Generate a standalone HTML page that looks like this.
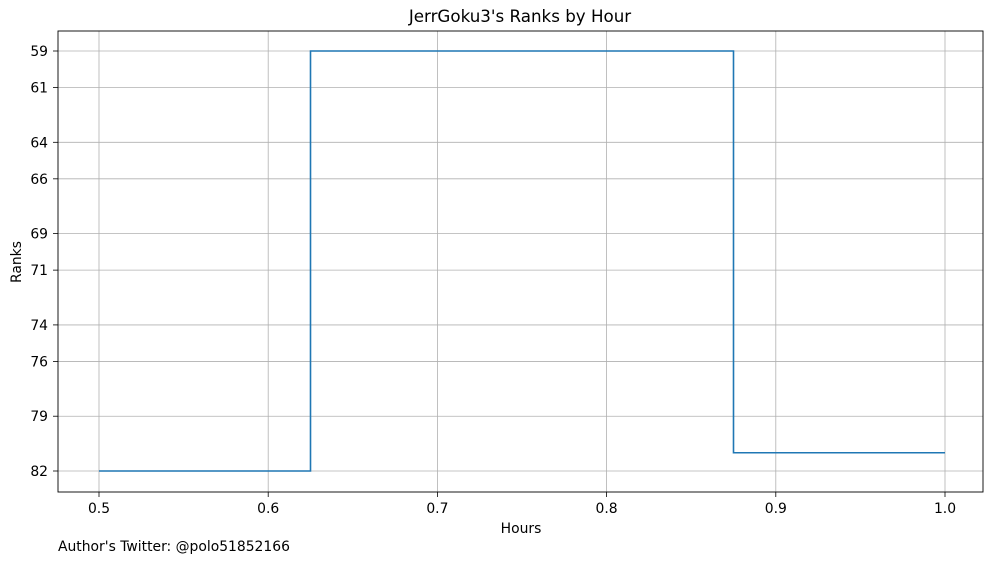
<!DOCTYPE html>
<html><head><meta charset="utf-8"><style>
body{margin:0;background:#fff;}
svg{font-family:"DejaVu Sans","Liberation Sans",sans-serif;}
</style></head><body>
<svg id="chart" width="997" height="562" viewBox="0 0 997 562" xmlns="http://www.w3.org/2000/svg">
<rect width="997" height="562" fill="#fff"/>
<text x="520" y="22" text-anchor="middle" font-size="16.7">JerrGoku3's Ranks by Hour</text>
<g id="grid"></g>
<g id="ticks"></g>
<path id="line" fill="none" stroke="#1f77b4" stroke-width="1.6"/>
<rect x="58" y="31" width="925" height="461" fill="none" stroke="#000" stroke-width="0.9"/>
<text x="521" y="533" text-anchor="middle" font-size="13.9">Hours</text>
<text x="21" y="262" text-anchor="middle" font-size="13.9" transform="rotate(-90 21 262)">Ranks</text>
<text x="58" y="551" font-size="13.9">Author's Twitter: @polo51852166</text>
</svg>
<script>
const hours = [0.5, 0.75, 1.0];
const ranks = [82, 59, 81];
const xTicks = [0.5, 0.6, 0.7, 0.8, 0.9, 1.0];
const xTickLabels = ["0.5", "0.6", "0.7", "0.8", "0.9", "1.0"];
const yTicks = [59, 61, 64, 66, 69, 71, 74, 76, 79, 82];

const NS = "http://www.w3.org/2000/svg";
const X = v => 99 + (v - 0.5) * 1692;
const Y = v => 51 + (v - 59) * (420 / 23);
const grid = document.getElementById('grid');
const ticks = document.getElementById('ticks');
function mk(tag, attrs, parent) {
  const e = document.createElementNS(NS, tag);
  for (const k in attrs) e.setAttribute(k, attrs[k]);
  parent.appendChild(e);
  return e;
}
xTicks.forEach((t, i) => {
  const x = X(t);
  const g = mk('line', {x1: x, x2: x, y1: 31, y2: 492, stroke: '#b0b0b0', 'stroke-width': 0.8}, grid);
  
  
  const tk = mk('line', {x1: x, x2: x, y1: 492, y2: 497, stroke: '#000', 'stroke-width': 0.8}, ticks);
  
  
  const tx = mk('text', {x: x, y: 513, 'text-anchor': 'middle', 'font-size': 13.9}, ticks);
  tx.textContent = xTickLabels[i];
  
  
});
yTicks.forEach(t => {
  const y = Y(t);
  const g = mk('line', {x1: 58, x2: 983, y1: y, y2: y, stroke: '#b0b0b0', 'stroke-width': 0.8}, grid);
  
  
  const tk = mk('line', {x1: 53, x2: 58, y1: y, y2: y, stroke: '#000', 'stroke-width': 0.8}, ticks);
  
  
  const tx = mk('text', {x: 48, y: y + 5, 'text-anchor': 'end', 'font-size': 13.9}, ticks);
  tx.textContent = String(t);
  
  
});
let d = 'M' + X(hours[0]) + ',' + Y(ranks[0]);
for (let i = 1; i < hours.length; i++) {
  const m = X((hours[i - 1] + hours[i]) / 2);
  d += ' L' + m + ',' + Y(ranks[i - 1]) + ' L' + m + ',' + Y(ranks[i]);
}
d += ' L' + X(hours[hours.length - 1]) + ',' + Y(ranks[ranks.length - 1]);
document.getElementById('line').setAttribute('d', d);
</script>
</body></html>
